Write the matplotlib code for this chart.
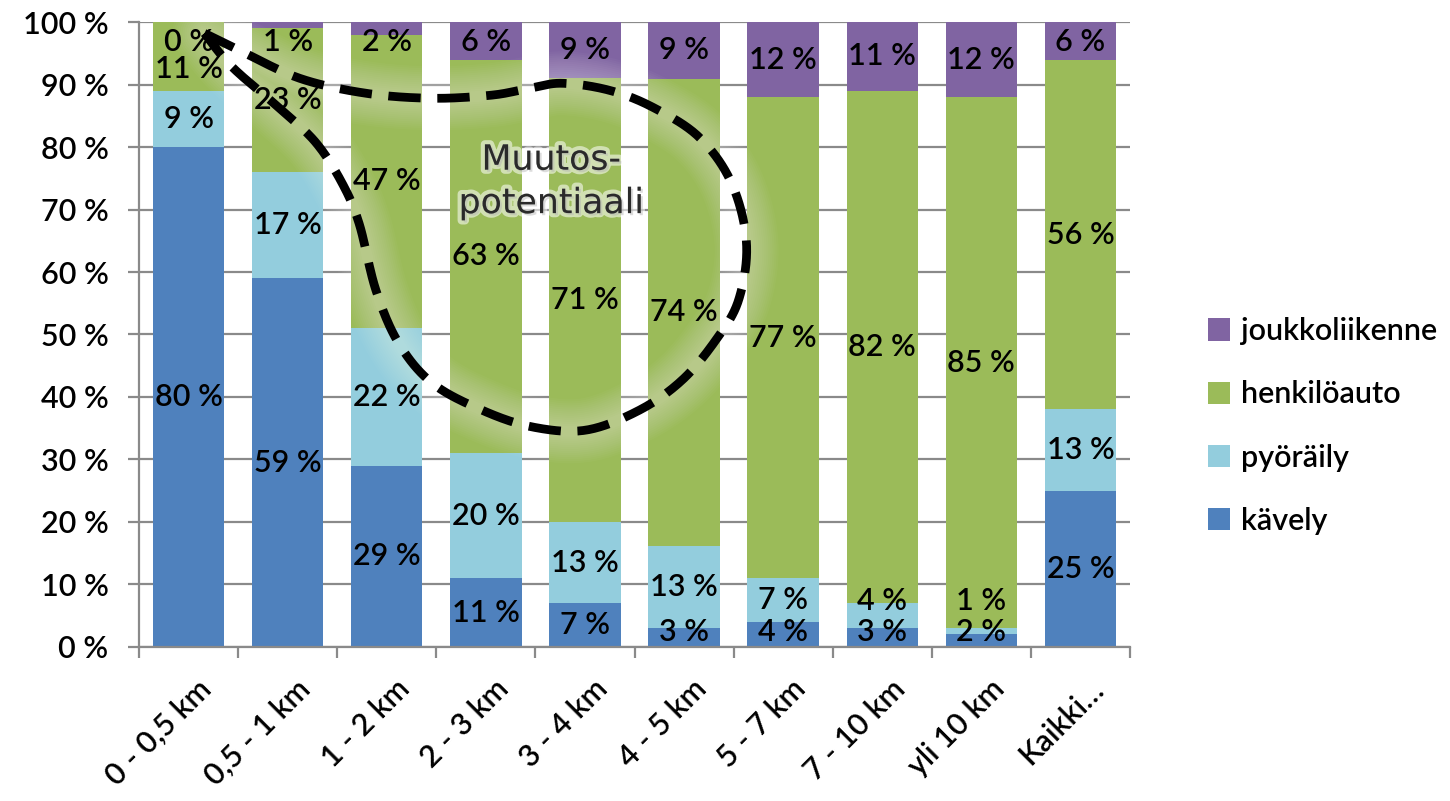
import numpy as np
import matplotlib.pyplot as plt
from matplotlib import patheffects as pe
from matplotlib.transforms import ScaledTranslation

plt.rcParams['font.family'] = ['Lato', 'DejaVu Sans']
plt.rcParams['font.weight'] = 'semibold'

categories = ["0 - 0,5 km", "0,5 - 1 km", "1 - 2 km", "2 - 3 km", "3 - 4 km",
              "4 - 5 km", "5 - 7 km", "7 - 10 km", "yli 10 km", "Kaikki…"]
kavely = [80, 59, 29, 11, 7, 3, 4, 3, 2, 25]
pyoraily = [9, 17, 22, 20, 13, 13, 7, 4, 1, 13]
henkiloauto = [11, 23, 47, 63, 71, 74, 77, 82, 85, 56]
joukkoliikenne = [0, 1, 2, 6, 9, 9, 12, 11, 12, 6]

series = [("kävely", kavely, "#4f81bd"),
          ("pyöräily", pyoraily, "#93cddd"),
          ("henkilöauto", henkiloauto, "#9bbb59"),
          ("joukkoliikenne", joukkoliikenne, "#8064a2")]

# dashed "change potential" outline, x in category units, y in percent
blob_x = [0.16, 0.51, 1.12, 1.79, 2.46, 3.06, 3.44, 3.77, 4.24, 4.68, 5.15, 5.48,
          5.63, 5.55, 5.32, 4.98, 4.55, 4.01, 3.47, 2.96, 2.46, 2.12, 1.89, 1.72,
          1.55, 1.29, 0.94, 0.44, 0.16]
blob_y = [98.2, 95.5, 91.0, 88.6, 87.8, 88.3, 89.4, 90.2, 89.1, 86.4, 81.6, 74.2,
          64.6, 55.5, 49.1, 42.7, 37.9, 34.7, 35.2, 37.9, 42.2, 48.6, 57.1, 67.8,
          74.2, 80.6, 85.9, 92.8, 98.2]


def catmull_rom(xs, ys, steps=20):
    p = np.column_stack([xs, ys])
    p = np.vstack([p[0], p, p[-1]])
    out = []
    for i in range(1, len(p) - 2):
        p0, p1, p2, p3 = p[i - 1], p[i], p[i + 1], p[i + 2]
        t = np.linspace(0, 1, steps, endpoint=False)[:, None]
        out.append(0.5 * (2 * p1 + (-p0 + p2) * t + (2 * p0 - 5 * p1 + 4 * p2 - p3) * t ** 2
                          + (-p0 + 3 * p1 - 3 * p2 + p3) * t ** 3))
    out.append(p[-2][None, :])
    c = np.vstack(out)
    return c[:, 0], c[:, 1]


fig = plt.figure(figsize=(14.5, 8.01), dpi=100)
ax = fig.add_axes([0.0959, 0.1923, 0.6834, 0.7802])

x = np.arange(len(categories))
raw = np.array([s[1] for s in series], dtype=float)
share = raw / raw.sum(axis=0) * 100

bottom = np.zeros(len(categories))
for (name, vals, color), h in zip(series, share):
    ax.bar(x, h, 0.72, bottom=bottom, color=color, label=name, zorder=2)
    bottom += h

# value labels, nudged apart where segments are thin
starts = np.vstack([np.zeros(len(x)), np.cumsum(share, axis=0)[:-1]])
for i in range(len(x)):
    ys = starts[:, i] + share[:, i] / 2
    lo = 2.4
    for s in range(4):
        ys[s] = max(ys[s], lo)
        lo = ys[s] + 5.0
    hi = 96.8
    for s in reversed(range(4)):
        ys[s] = min(ys[s], hi)
        hi = ys[s] - 4.3
    for s in range(4):
        ax.text(x[i], ys[s], f"{int(raw[s, i])} %", ha='center', va='center',
                fontsize=22, color='black', zorder=4)

# outline with a soft white glow
bx, by = catmull_rom(blob_x, blob_y)
for lw in np.linspace(46, 8, 14):
    ax.plot(bx, by, color='white', lw=lw, alpha=0.028, solid_capstyle='round',
            solid_joinstyle='round', zorder=3)
ax.plot(bx, by, color='black', lw=6.3, linestyle=(0, (3.7, 1.9)),
        dash_capstyle='butt', zorder=5)

ax.text(3.66, 74.5, "Muutos-\npotentiaali", ha='center', va='center',
        fontsize=25, color='#2a2a2a', linespacing=1.35, family=['DejaVu Sans'],
        fontweight='normal', zorder=6,
        path_effects=[pe.SimplePatchShadow(offset=(1.5, -1.5), shadow_rgbFace='#555555',
                                           alpha=0.45),
                      pe.withStroke(linewidth=6, foreground=(1, 1, 1, 0.55))])

ax.set_xlim(-0.5, len(categories) - 0.5)
ax.set_ylim(0, 100)
ax.set_yticks(np.arange(0, 101, 10))
ax.set_yticklabels([f"{v} %" for v in range(0, 101, 10)], fontsize=22)
ax.yaxis.grid(True, color='#8a8a8a', lw=1.6)
ax.set_axisbelow(True)

ax.set_xticks(x)
ax.set_xticklabels(categories, fontsize=22, rotation=45, ha='right',
                   rotation_mode='anchor')
ax.set_xticks(np.arange(-0.5, len(categories), 1), minor=True)
ax.tick_params(axis='x', which='major', length=0, pad=20)
ax.tick_params(axis='x', which='minor', length=8, width=1.6, color='#8a8a8a')
ax.tick_params(axis='y', length=8, width=1.6, color='#8a8a8a', pad=14)
for lbl in ax.get_xticklabels():
    lbl.set_transform(lbl.get_transform() + ScaledTranslation(6 / 72, 0, fig.dpi_scale_trans))

for side in ['top', 'right']:
    ax.spines[side].set_visible(False)
for side in ['left', 'bottom']:
    ax.spines[side].set_color('#8a8a8a')
    ax.spines[side].set_linewidth(1.6)

handles, labels = ax.get_legend_handles_labels()
fig.legend(handles[::-1], labels[::-1], loc='center left',
           bbox_to_anchor=(1180 / 1450, (801 - 426) / 801), frameon=False,
           fontsize=22, handlelength=0.75, handleheight=0.75, handletextpad=0.35,
           labelspacing=1.15)

fig.savefig("out.png", dpi=100)
